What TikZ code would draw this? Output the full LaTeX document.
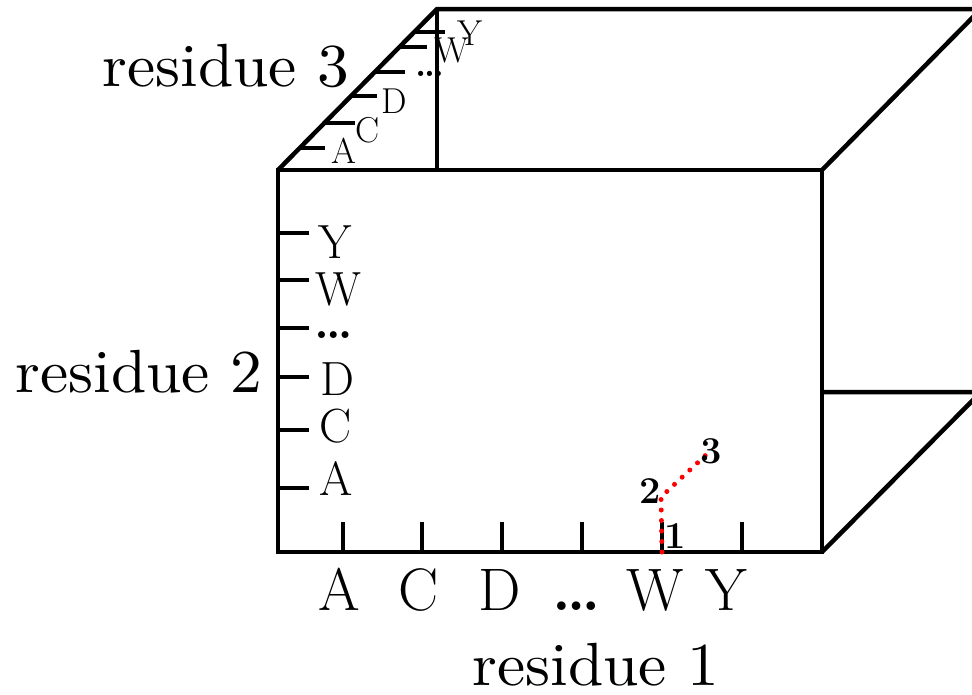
\documentclass[tikz,border=0pt]{standalone}
\usepackage{fontspec}
\newfontfamily\wideserif{lmroman10-regular.otf}[FakeStretch=1.04]
\begin{document}
\begin{tikzpicture}[x=1pt,y=-1pt,
  edge/.style={line width=4.5pt, line join=miter, black},
  tick/.style={line width=4.5pt, black},
  lbl/.style={inner sep=0pt, anchor=base},
  axname/.style={lbl, font=\wideserif\fontsize{61}{68}\selectfont},
  blbl/.style={lbl, font=\fontsize{60}{66}\selectfont},
  llbl/.style={lbl, font=\fontsize{48}{54}\selectfont},
  tlbl/.style={lbl, font=\fontsize{36}{40}\selectfont},
  numlbl/.style={lbl, font=\fontsize{38}{42}\selectfont\bfseries},
  path3/.style={red, line width=5pt, line cap=round, dash pattern=on 0pt off 10.5pt}]
\useasboundingbox (0,0) rectangle (972,694);
\clip (0,0) rectangle (972,694);
% cube corners
\coordinate (F1) at (278,552);
\coordinate (F2) at (822,552);
\coordinate (F3) at (822,170);
\coordinate (F4) at (278,170);
\coordinate (B4) at (437,9);
\coordinate (B3) at (981,9);
\coordinate (B2) at (981,392);
\coordinate (Bm) at (822,392);
\coordinate (B4f) at (437,170);
\draw[edge] (F1) -- (F2) -- (F3) -- (F4) -- cycle;
\draw[edge] (F4) -- (B4) -- (B3) -- (F3);
\draw[edge] (B4) -- (B4f);
\draw[edge] (F2) -- (B2) -- (Bm);
% bottom axis ticks
\foreach \x [count=\i] in {343,422,502,582,662,742}{
  \coordinate (bt\i) at (\x,552);
  \coordinate (bte\i) at (\x,522);
  \draw[tick] (bt\i) -- (bte\i);
}
% left axis ticks
\foreach \y [count=\i] in {488,430,377,328,280,233}{
  \coordinate (lt\i) at (278,\y);
  \coordinate (lte\i) at (309,\y);
  \draw[tick] (lt\i) -- (lte\i);
}
% diagonal axis ticks
\foreach \y/\xa/\xb [count=\i] in {148/300/325,123/324/355,96/351/377,72/375/405,47/399/427,32/414/445}{
  \coordinate (dt\i) at (\xa,\y);
  \coordinate (dte\i) at (\xb,\y);
  \draw[tick] (dt\i) -- (dte\i);
}
% bottom labels
\node[blbl] (bA) at (339,610) {A};
\node[blbl] (bC) at (419,610) {C};
\node[blbl] (bD) at (500,610) {D};
\node[blbl] (bdots) at (577,610) {\textbf{\dots}};
\node[blbl] (bW) at (655,610) {W};
\node[blbl] (bY) at (726,610) {Y};
% left labels
\node[llbl] (lA) at (336,495) {A};
\node[llbl] (lC) at (336,442) {C};
\node[llbl] (lD) at (337,395) {D};
\node[llbl] (ldots) at (334,338) {\textbf{\dots}};
\node[llbl] (lW) at (338,305) {W};
\node[llbl] (lY) at (335,258) {Y};
% diagonal labels
\node[tlbl] (tA) at (344,163) {A};
\node[tlbl] (tC) at (368,142) {C};
\node[tlbl] (tD) at (394,113) {D};
\node[tlbl] (tdots) at (430,76) {\textbf{\dots}};
\node[tlbl] (tW) at (452,62) {W};
\node[tlbl] (tY) at (470,45) {Y};
% axis names
\node[axname] (r1) at (596,685) {residue 1};
\node[axname] (r2) at (139,392) {residue 2};
\node[axname] (r3) at (226,86) {residue 3};
% red path
\coordinate (P1) at (662,552);
\coordinate (P2) at (661,497);
\coordinate (P3) at (708,453);
\draw[path3] (P1) -- (P2) -- (P3);
\node[numlbl] (n1) at (675,548) {1};
\node[numlbl] (n2) at (650,503) {2};
\node[numlbl] (n3) at (711,463) {3};
\end{tikzpicture}
\end{document}
